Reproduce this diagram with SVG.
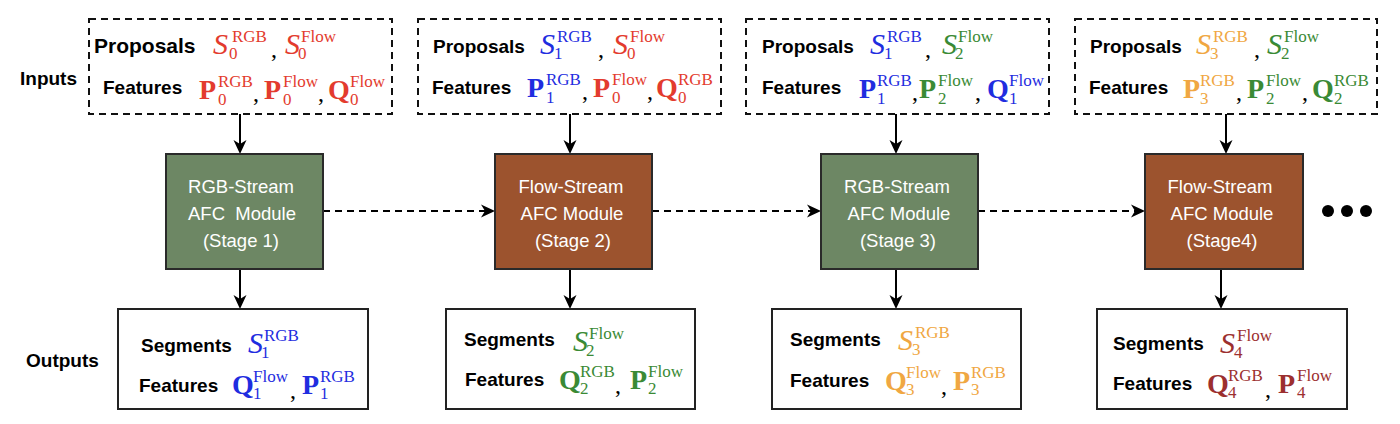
<svg xmlns="http://www.w3.org/2000/svg" width="1400" height="424" viewBox="0 0 1400 424">
<style>
.bg{fill:#fff}
.lbl{font-family:"Liberation Sans",Arial,sans-serif;font-weight:bold;font-size:19px;fill:#000}
.big{font-size:21px}
.mt{font-family:"Liberation Sans",Arial,sans-serif;font-size:18.5px;fill:#fff;text-anchor:middle}
.m{font-family:"Liberation Serif","Times New Roman",serif;font-size:28px}
.it{font-style:italic;font-size:30px}
.bd{font-weight:bold}
.sc{font-size:17px;font-weight:normal;font-style:normal}
.cm{font-family:"Liberation Serif","Times New Roman",serif;font-size:24px;fill:#000}
.r{fill:#e33b2e}.b{fill:#1f2de0}.g{fill:#3a8a35}.o{fill:#f0a742}.d{fill:#9c2f2f}
.inbox{fill:#fff;stroke:#111;stroke-width:2;stroke-dasharray:7 5}
.outbox{fill:#fff;stroke:#222;stroke-width:2}
.modg{fill:#6d8764;stroke:#2a2a2a;stroke-width:2}
.modb{fill:#9c532e;stroke:#2a2a2a;stroke-width:2}
.ln{fill:none;stroke:#000;stroke-width:2}
.dash{stroke-dasharray:7 5}
</style>
<defs>
<marker id="ah" viewBox="0 0 14 14" refX="7" refY="7" markerWidth="14" markerHeight="14" markerUnits="userSpaceOnUse" orient="auto">
<path d="M0,0.5 L14,7 L0,13.5 L4,7 Z" fill="#000"/>
</marker>
</defs>
<rect class="bg" x="0" y="0" width="1400" height="424"/>

<g id="side-labels">
<text class="lbl" x="20" y="85">Inputs</text>
<text class="lbl" x="26" y="367">Outputs</text>
</g>

<g id="connectors">
<path class="ln" d="M240,114 V147" marker-end="url(#ah)"/>
<path class="ln" d="M570,114 V147" marker-end="url(#ah)"/>
<path class="ln" d="M896,114 V147" marker-end="url(#ah)"/>
<path class="ln" d="M1226,114 V147" marker-end="url(#ah)"/>
<path class="ln" d="M240,269 V302" marker-end="url(#ah)"/>
<path class="ln" d="M570,269 V302" marker-end="url(#ah)"/>
<path class="ln" d="M896,269 V302" marker-end="url(#ah)"/>
<path class="ln" d="M1221,269 V302" marker-end="url(#ah)"/>
<path class="ln dash" d="M323,211 H488" marker-end="url(#ah)"/>
<path class="ln dash" d="M652,211 H814" marker-end="url(#ah)"/>
<path class="ln dash" d="M978,211 H1138" marker-end="url(#ah)"/>
</g>

<!-- Input boxes -->
<g id="input1">
<rect class="inbox" x="89" y="19" width="303" height="95"/>
<text class="lbl big" x="94" y="53">Proposals</text>
<text class="m it r"><tspan x="213" y="54">S</tspan><tspan class="sc" x="232" y="42">RGB</tspan><tspan class="sc" x="229" y="59">0</tspan></text>
<text class="cm" x="271" y="57">,</text>
<text class="m it r"><tspan x="285" y="54">S</tspan><tspan class="sc" x="301" y="42">Flow</tspan><tspan class="sc" x="298" y="59">0</tspan></text>
<text class="lbl" x="103" y="94">Features</text>
<text class="m bd r"><tspan x="199" y="99">P</tspan><tspan class="sc" x="218" y="87">RGB</tspan><tspan class="sc" x="218" y="105">0</tspan></text>
<text class="cm" x="253" y="101">,</text>
<text class="m bd r"><tspan x="264" y="99">P</tspan><tspan class="sc" x="283" y="87">Flow</tspan><tspan class="sc" x="283" y="105">0</tspan></text>
<text class="cm" x="318" y="101">,</text>
<text class="m bd r"><tspan x="328" y="99">Q</tspan><tspan class="sc" x="350" y="87">Flow</tspan><tspan class="sc" x="350" y="105">0</tspan></text>
</g>

<g id="input2">
<rect class="inbox" x="418" y="19" width="303" height="95"/>
<text class="lbl" x="433" y="53">Proposals</text>
<text class="m it b"><tspan x="540" y="54">S</tspan><tspan class="sc" x="557" y="42">RGB</tspan><tspan class="sc" x="554" y="59">1</tspan></text>
<text class="cm" x="598" y="57">,</text>
<text class="m it r"><tspan x="613" y="54">S</tspan><tspan class="sc" x="630" y="42">Flow</tspan><tspan class="sc" x="627" y="59">0</tspan></text>
<text class="lbl" x="432" y="94">Features</text>
<text class="m bd b"><tspan x="527" y="97">P</tspan><tspan class="sc" x="546" y="85">RGB</tspan><tspan class="sc" x="546" y="103">1</tspan></text>
<text class="cm" x="582" y="99">,</text>
<text class="m bd r"><tspan x="593" y="97">P</tspan><tspan class="sc" x="612" y="85">Flow</tspan><tspan class="sc" x="612" y="103">0</tspan></text>
<text class="cm" x="647" y="99">,</text>
<text class="m bd r"><tspan x="656" y="97">Q</tspan><tspan class="sc" x="678" y="85">RGB</tspan><tspan class="sc" x="678" y="103">0</tspan></text>
</g>

<g id="input3">
<rect class="inbox" x="746" y="19" width="303" height="95"/>
<text class="lbl" x="762" y="53">Proposals</text>
<text class="m it b"><tspan x="870" y="54">S</tspan><tspan class="sc" x="887" y="42">RGB</tspan><tspan class="sc" x="884" y="59">1</tspan></text>
<text class="cm" x="925" y="57">,</text>
<text class="m it g"><tspan x="942" y="54">S</tspan><tspan class="sc" x="958" y="42">Flow</tspan><tspan class="sc" x="955" y="59">2</tspan></text>
<text class="lbl" x="762" y="94">Features</text>
<text class="m bd b"><tspan x="859" y="98">P</tspan><tspan class="sc" x="877" y="86">RGB</tspan><tspan class="sc" x="877" y="104">1</tspan></text>
<text class="cm" x="912" y="100">,</text>
<text class="m bd g"><tspan x="919" y="98">P</tspan><tspan class="sc" x="938" y="86">Flow</tspan><tspan class="sc" x="938" y="104">2</tspan></text>
<text class="cm" x="975" y="100">,</text>
<text class="m bd b"><tspan x="987" y="98">Q</tspan><tspan class="sc" x="1009" y="86">Flow</tspan><tspan class="sc" x="1009" y="104">1</tspan></text>
</g>

<g id="input4">
<rect class="inbox" x="1075" y="19" width="302" height="95"/>
<text class="lbl" x="1090" y="53">Proposals</text>
<text class="m it o"><tspan x="1196" y="54">S</tspan><tspan class="sc" x="1213" y="42">RGB</tspan><tspan class="sc" x="1210" y="59">3</tspan></text>
<text class="cm" x="1254" y="57">,</text>
<text class="m it g"><tspan x="1267" y="54">S</tspan><tspan class="sc" x="1284" y="42">Flow</tspan><tspan class="sc" x="1281" y="59">2</tspan></text>
<text class="lbl" x="1089" y="94">Features</text>
<text class="m bd o"><tspan x="1183" y="98">P</tspan><tspan class="sc" x="1200" y="86">RGB</tspan><tspan class="sc" x="1200" y="104">3</tspan></text>
<text class="cm" x="1236" y="100">,</text>
<text class="m bd g"><tspan x="1247" y="98">P</tspan><tspan class="sc" x="1266" y="86">Flow</tspan><tspan class="sc" x="1266" y="104">2</tspan></text>
<text class="cm" x="1302" y="100">,</text>
<text class="m bd g"><tspan x="1312" y="98">Q</tspan><tspan class="sc" x="1334" y="86">RGB</tspan><tspan class="sc" x="1334" y="104">2</tspan></text>
</g>

<!-- Modules -->
<g id="module1">
<rect class="modg" x="166" y="154" width="157" height="115"/>
<text class="mt" x="241" y="193">RGB-Stream</text>
<text class="mt" x="242" y="220" xml:space="preserve">AFC  Module</text>
<text class="mt" x="241" y="247">(Stage 1)</text>
</g>
<g id="module2">
<rect class="modb" x="495" y="154" width="157" height="115"/>
<text class="mt" x="571" y="193">Flow-Stream</text>
<text class="mt" x="572" y="220">AFC Module</text>
<text class="mt" x="573" y="247">(Stage 2)</text>
</g>
<g id="module3">
<rect class="modg" x="821" y="154" width="157" height="115"/>
<text class="mt" x="897" y="193">RGB-Stream</text>
<text class="mt" x="899" y="220">AFC Module</text>
<text class="mt" x="898" y="247">(Stage 3)</text>
</g>
<g id="module4">
<rect class="modb" x="1145" y="154" width="158" height="115"/>
<text class="mt" x="1220" y="193">Flow-Stream</text>
<text class="mt" x="1222" y="220">AFC Module</text>
<text class="mt" x="1222" y="247">(Stage4)</text>
</g>

<g id="ellipsis">
<circle cx="1328" cy="211" r="6" fill="#000"/>
<circle cx="1347" cy="211" r="6" fill="#000"/>
<circle cx="1366" cy="211" r="6" fill="#000"/>
</g>

<!-- Output boxes -->
<g id="output1">
<rect class="outbox" x="118" y="309" width="250" height="100"/>
<text class="lbl" x="141" y="352">Segments</text>
<text class="m it b"><tspan x="248" y="353">S</tspan><tspan class="sc" x="264" y="341">RGB</tspan><tspan class="sc" x="261" y="358">1</tspan></text>
<text class="lbl" x="139" y="392">Features</text>
<text class="m bd b"><tspan x="232" y="394">Q</tspan><tspan class="sc" x="253" y="382">Flow</tspan><tspan class="sc" x="253" y="399">1</tspan></text>
<text class="cm" x="290" y="398">,</text>
<text class="m bd b"><tspan x="302" y="394">P</tspan><tspan class="sc" x="320" y="382">RGB</tspan><tspan class="sc" x="320" y="399">1</tspan></text>
</g>

<g id="output2">
<rect class="outbox" x="446" y="309" width="249" height="100"/>
<text class="lbl" x="464" y="346">Segments</text>
<text class="m it g"><tspan x="573" y="351">S</tspan><tspan class="sc" x="589" y="339">Flow</tspan><tspan class="sc" x="586" y="356">2</tspan></text>
<text class="lbl" x="465" y="386">Features</text>
<text class="m bd g"><tspan x="559" y="389">Q</tspan><tspan class="sc" x="580" y="377">RGB</tspan><tspan class="sc" x="580" y="394">2</tspan></text>
<text class="cm" x="615" y="393">,</text>
<text class="m bd g"><tspan x="630" y="389">P</tspan><tspan class="sc" x="648" y="377">Flow</tspan><tspan class="sc" x="648" y="394">2</tspan></text>
</g>

<g id="output3">
<rect class="outbox" x="772" y="309" width="249" height="100"/>
<text class="lbl" x="790" y="346">Segments</text>
<text class="m it o"><tspan x="898" y="350">S</tspan><tspan class="sc" x="915" y="338">RGB</tspan><tspan class="sc" x="912" y="355">3</tspan></text>
<text class="lbl" x="790" y="387">Features</text>
<text class="m bd o"><tspan x="885" y="390">Q</tspan><tspan class="sc" x="906" y="378">Flow</tspan><tspan class="sc" x="906" y="395">3</tspan></text>
<text class="cm" x="941" y="394">,</text>
<text class="m bd o"><tspan x="953" y="390">P</tspan><tspan class="sc" x="971" y="378">RGB</tspan><tspan class="sc" x="971" y="395">3</tspan></text>
</g>

<g id="output4">
<rect class="outbox" x="1097" y="309" width="250" height="100"/>
<text class="lbl" x="1113" y="350">Segments</text>
<text class="m it d"><tspan x="1220" y="353">S</tspan><tspan class="sc" x="1237" y="341">Flow</tspan><tspan class="sc" x="1234" y="358">4</tspan></text>
<text class="lbl" x="1113" y="390">Features</text>
<text class="m bd d"><tspan x="1207" y="393">Q</tspan><tspan class="sc" x="1228" y="381">RGB</tspan><tspan class="sc" x="1228" y="398">4</tspan></text>
<text class="cm" x="1265" y="397">,</text>
<text class="m bd d"><tspan x="1278" y="393">P</tspan><tspan class="sc" x="1297" y="381">Flow</tspan><tspan class="sc" x="1297" y="398">4</tspan></text>
</g>
</svg>
